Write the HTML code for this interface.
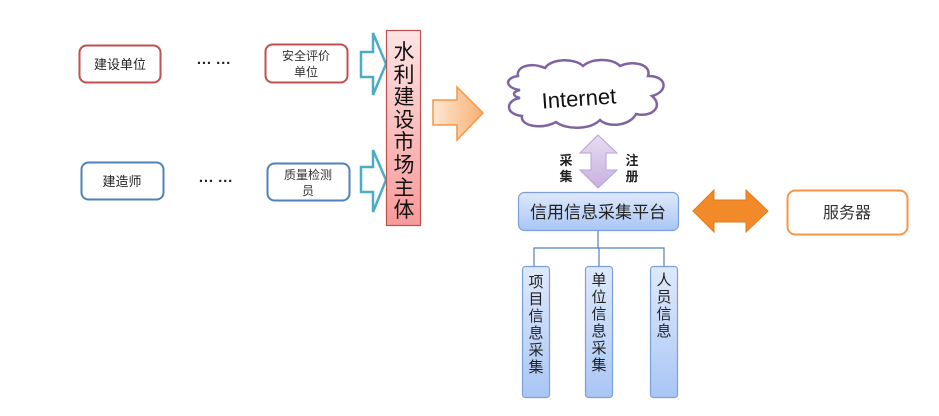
<!DOCTYPE html>
<html><head><meta charset="utf-8"><style>
html,body{margin:0;padding:0;background:#fff;}
svg{display:block;}
text{font-family:"Liberation Sans","Noto Sans CJK SC",sans-serif;}
</style></head><body>
<svg width="939" height="416" viewBox="0 0 939 416" xmlns="http://www.w3.org/2000/svg">
<defs>
<linearGradient id="pink" x1="0" y1="0" x2="0" y2="1"><stop offset="0" stop-color="#fde4e4"/><stop offset="1" stop-color="#f79a9a"/></linearGradient>
<linearGradient id="blue" x1="0" y1="0" x2="0" y2="1"><stop offset="0" stop-color="#dfe9fb"/><stop offset="1" stop-color="#a9c6f5"/></linearGradient>
<linearGradient id="orangeA" x1="0" y1="0" x2="1" y2="0"><stop offset="0" stop-color="#fde6d3"/><stop offset="1" stop-color="#f9b072"/></linearGradient>
<linearGradient id="purp" x1="0" y1="0" x2="0" y2="1"><stop offset="0" stop-color="#e8dcf2"/><stop offset="1" stop-color="#c7b1de"/></linearGradient>
</defs>
<rect x="79.5" y="45.5" width="81" height="37" rx="7" fill="#fff" stroke="#c0504d" stroke-width="2"/>
<text x="120" y="69" font-size="13" text-anchor="middle" fill="#222">建设单位</text>
<text x="214" y="68" font-size="15" font-weight="bold" text-anchor="middle" fill="#222">··· ···</text>
<rect x="265.5" y="44.5" width="82" height="38" rx="7" fill="#fff" stroke="#c0504d" stroke-width="2"/>
<text x="306" y="60" font-size="12" text-anchor="middle" fill="#333">安全评价</text>
<text x="306" y="76" font-size="12" text-anchor="middle" fill="#333">单位</text>
<rect x="81.5" y="162.5" width="82" height="37" rx="7" fill="#fff" stroke="#4f81bd" stroke-width="2"/>
<text x="122" y="186" font-size="13" text-anchor="middle" fill="#222">建造师</text>
<text x="216" y="186" font-size="15" font-weight="bold" text-anchor="middle" fill="#222">··· ···</text>
<rect x="267.5" y="163.5" width="82" height="37" rx="7" fill="#fff" stroke="#4f81bd" stroke-width="2"/>
<text x="308" y="179" font-size="12" text-anchor="middle" fill="#333">质量检测</text>
<text x="308" y="195" font-size="12" text-anchor="middle" fill="#333">员</text>
<path d="M361,52 H373 V33 L386,64 L373,95 V77 H361 Z" fill="#fff" stroke="#4bacc6" stroke-width="2.5"/>
<path d="M361,167 H373 V150 L386,180 L373,212 V192 H361 Z" fill="#fff" stroke="#4bacc6" stroke-width="2.5"/>
<rect x="386.5" y="30.5" width="34" height="195" fill="url(#pink)" stroke="#c0504d" stroke-width="1.2"/>
<g font-size="21" text-anchor="middle" fill="#111">
<text x="404" y="59">水</text><text x="404" y="82">利</text><text x="404" y="104">建</text><text x="404" y="127">设</text><text x="404" y="149">市</text><text x="404" y="172">场</text><text x="404" y="195">主</text><text x="404" y="217">体</text>
</g>
<path d="M433,100 H457 V87 L483,113 L457,140 V125 H433 Z" fill="url(#orangeA)" stroke="#f79646" stroke-width="1.5"/>
<path d="M520,90 C505,88 504,78 518,76 C516,66 532,62 545,68 C552,58 575,58 583,66 C592,58 612,58 620,66 C632,60 652,64 648,76 C668,76 668,92 652,96 C664,106 652,118 636,114 C630,126 608,128 600,120 C590,130 566,130 556,122 C542,130 520,126 522,116 C504,114 506,100 520,98 C512,96 512,92 520,90 Z" fill="#fff" stroke="#8064a2" stroke-width="2.5"/>
<text x="579" y="106" font-size="22" text-anchor="middle" fill="#111" transform="rotate(-4 579 100)">Internet</text>
<path d="M598,135 L617,153 H606 V170 H617 L598,188 L580,170 H591 V153 H580 Z" fill="url(#purp)" stroke="#b9a3d6" stroke-width="1"/>
<g font-size="13" font-weight="bold" fill="#222" text-anchor="middle">
<text x="566" y="165">采</text><text x="566" y="181">集</text>
<text x="632" y="165">注</text><text x="632" y="181">册</text>
</g>
<rect x="518.5" y="192.5" width="160" height="38" rx="6" fill="url(#blue)" stroke="#7ba0d8" stroke-width="1.2"/>
<text x="598" y="218" font-size="17" text-anchor="middle" fill="#222">信用信息采集平台</text>
<path d="M693,211 L714,190 V200 H746 V190 L768,211 L746,232 V222 H714 V232 Z" fill="#f28a2a" stroke="#e07a1a" stroke-width="1"/>
<rect x="787.5" y="190.5" width="120" height="44" rx="8" fill="#fff" stroke="#f79646" stroke-width="2"/>
<text x="847" y="218" font-size="16" text-anchor="middle" fill="#333">服务器</text>
<g stroke="#4f81bd" stroke-width="1.2" fill="none">
<path d="M598,231 V248 M534,266 V248 H664 V266 M599,248 V266"/>
</g>
<rect x="522.5" y="266.5" width="27" height="131" rx="3" fill="url(#blue)" stroke="#7ba0d8" stroke-width="1.2"/>
<rect x="585.5" y="266.5" width="27" height="131" rx="3" fill="url(#blue)" stroke="#7ba0d8" stroke-width="1.2"/>
<rect x="650.5" y="266.5" width="27" height="131" rx="3" fill="url(#blue)" stroke="#7ba0d8" stroke-width="1.2"/>
<g font-size="15" text-anchor="middle" fill="#222">
<text x="536" y="287">项</text><text x="536" y="304">目</text><text x="536" y="321">信</text><text x="536" y="338">息</text><text x="536" y="355">采</text><text x="536" y="372">集</text>
<text x="599" y="285">单</text><text x="599" y="302">位</text><text x="599" y="319">信</text><text x="599" y="336">息</text><text x="599" y="353">采</text><text x="599" y="370">集</text>
<text x="664" y="285">人</text><text x="664" y="302">员</text><text x="664" y="319">信</text><text x="664" y="336">息</text>
</g>
</svg>
</body></html>
